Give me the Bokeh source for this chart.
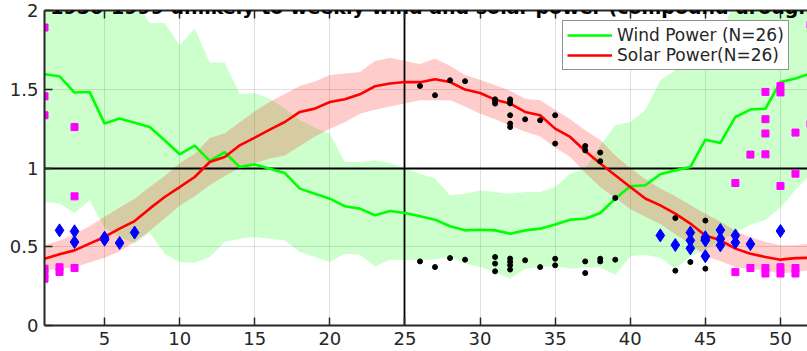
from bokeh.plotting import figure
from bokeh.models import FixedTicker, LinearAxis, Legend, LegendItem, Label
from bokeh.embed import file_html
from bokeh.resources import INLINE

# ---------------- data ----------------
weeks = list(range(1, 53))

wind_mean = [1.595, 1.582, 1.479, 1.483, 1.282, 1.314, 1.288, 1.260, 1.176, 1.087,
             1.142, 1.045, 1.100, 1.006, 1.023, 0.996, 0.968, 0.869, 0.837, 0.805,
             0.757, 0.742, 0.700, 0.727, 0.714, 0.693, 0.672, 0.630, 0.604, 0.608,
             0.604, 0.583, 0.604, 0.615, 0.642, 0.672, 0.678, 0.714, 0.805, 0.884,
             0.890, 0.960, 0.985, 1.006, 1.180, 1.159, 1.324, 1.371, 1.377, 1.546,
             1.568, 1.600]
wind_hi = [2.12, 2.15, 2.10, 2.14, 2.10, 2.08, 2.06, 1.92, 1.92, 1.78,
           1.885, 1.67, 1.67, 1.468, 1.476, 1.44, 1.377, 1.303, 1.256, 1.218,
           1.038, 1.038, 1.049, 1.032, 1.000, 0.964, 0.933, 0.827, 0.837, 0.858,
           0.848, 0.837, 0.848, 0.848, 0.879, 0.964, 0.996, 1.144, 1.271, 1.292,
           1.367, 1.557, 1.621, 1.663, 1.727, 1.832, 2.08, 2.12, 2.10, 2.15,
           2.12, 2.10]
wind_lo = [0.784, 0.774, 0.714, 0.795, 0.62, 0.56, 0.52, 0.59, 0.456, 0.403,
           0.397, 0.435, 0.53, 0.551, 0.562, 0.551, 0.54, 0.466, 0.435, 0.403,
           0.456, 0.45, 0.375, 0.417, 0.417, 0.414, 0.42, 0.435, 0.393, 0.371,
           0.339, 0.297, 0.361, 0.37, 0.38, 0.36, 0.37, 0.37, 0.32, 0.44,
           0.45, 0.43, 0.36, 0.44, 0.48, 0.54, 0.59, 0.64, 0.67, 0.75,
           0.86, 0.96]

solar_mean = [0.424, 0.452, 0.477, 0.520, 0.562, 0.615, 0.663, 0.742, 0.816, 0.879,
              0.943, 1.038, 1.070, 1.144, 1.193, 1.244, 1.292, 1.356, 1.377, 1.419,
              1.436, 1.468, 1.519, 1.536, 1.546, 1.545, 1.564, 1.546, 1.498, 1.476,
              1.434, 1.409, 1.356, 1.335, 1.250, 1.197, 1.108, 1.028, 0.954, 0.879,
              0.806, 0.763, 0.710, 0.647, 0.572, 0.541, 0.488, 0.456, 0.435, 0.418,
              0.428, 0.430]
solar_hi = [0.51, 0.54, 0.58, 0.63, 0.69, 0.75, 0.805, 0.88, 0.95, 1.03,
            1.09, 1.19, 1.22, 1.29, 1.36, 1.42, 1.47, 1.52, 1.55, 1.59,
            1.60, 1.61, 1.68, 1.70, 1.68, 1.66, 1.695, 1.65, 1.59, 1.56,
            1.525, 1.49, 1.44, 1.43, 1.37, 1.31, 1.24, 1.18, 1.08, 1.00,
            0.93, 0.87, 0.82, 0.765, 0.71, 0.66, 0.60, 0.56, 0.53, 0.51,
            0.51, 0.52]
solar_lo = [0.35, 0.36, 0.37, 0.40, 0.43, 0.47, 0.53, 0.60, 0.68, 0.76,
            0.82, 0.89, 0.95, 1.00, 1.03, 1.06, 1.08, 1.14, 1.20, 1.25,
            1.29, 1.345, 1.37, 1.39, 1.41, 1.43, 1.43, 1.43, 1.39, 1.345,
            1.31, 1.27, 1.23, 1.20, 1.13, 1.07, 0.97, 0.88, 0.81, 0.74,
            0.69, 0.645, 0.58, 0.52, 0.44, 0.41, 0.37, 0.36, 0.35, 0.33,
            0.34, 0.35]

# event markers
mag_week = [1, 1, 1, 1, 1, 1, 2, 2, 3, 3, 3,
            47, 47, 48, 48, 49, 49, 49, 49, 49, 49,
            50, 50, 50, 50, 50, 51, 51, 51, 51, 52, 52]
mag_val = [1.892, 1.455, 1.335, 0.361, 0.329, 0.297, 0.37, 0.34, 1.26, 0.82, 0.365,
           0.905, 0.339, 1.085, 0.365, 1.483, 1.31, 1.219, 1.087, 0.365, 0.33,
           1.52, 1.48, 0.886, 0.37, 0.33, 1.225, 0.964, 0.365, 0.33, 1.91, 1.28]

dia_week = [2, 3, 3, 5, 5, 6, 7,
            42, 43, 44, 44, 44, 45, 45, 45, 45, 46, 46, 46, 47, 47, 48, 50]
dia_val = [0.604, 0.598, 0.53, 0.558, 0.545, 0.524, 0.59,
           0.572, 0.511, 0.59, 0.54, 0.49, 0.56, 0.547, 0.54, 0.44,
           0.606, 0.55, 0.509, 0.572, 0.527, 0.517, 0.60]

dot_week = [26, 26, 27, 27, 28, 28, 29, 29,
            31, 31, 31, 31, 31, 31,
            32, 32, 32, 32, 32, 32, 32, 32, 32, 32,
            33, 33, 34, 34, 35, 35, 35, 35, 37, 37, 37, 37,
            38, 38, 38, 38, 39, 39, 43, 43, 44, 45, 45]
dot_val = [1.521, 0.407, 1.462, 0.371, 1.557, 0.428, 1.551, 0.418,
           1.436, 1.424, 1.409, 0.435, 0.393, 0.344,
           1.436, 1.42, 1.41, 1.335, 1.282, 1.26, 0.425, 0.404, 0.383, 0.355,
           1.309, 0.414, 1.303, 0.371, 1.335, 1.155, 0.424, 0.382, 1.14, 1.112, 0.407, 0.333,
           1.098, 1.043, 0.424, 0.407, 0.81, 0.418, 0.682, 0.348, 0.403, 0.666, 0.361]

x_ticks = [5, 10, 15, 20, 25, 30, 35, 40, 45, 50]
y_ticks = [0, 0.5, 1, 1.5, 2]
y_tick_labels = ["0", "0.5", "1", "1.5", "2"]
ref_week = [25]
ref_level = [1]

title_text = "GER 1950-1999 unlikely to weekly wind and solar power (compound drought events)"
wind_label = "Wind Power (N=26)"
solar_label = "Solar Power(N=26)"

# ---------------- figure ----------------
AX = "#262626"
FONT = "DejaVu Sans"

p = figure(frame_width=763, frame_height=315,
           min_border_left=44, min_border_right=0, min_border_top=26, min_border_bottom=25,
           x_range=(1, 51.8), y_range=(0, 2),
           output_backend="svg", toolbar_location=None,
           margin=(-16, 0, 0, 0))
p.background_fill_color = "white"
p.border_fill_color = "white"
p.outline_line_color = None

# bands
p.varea(x=weeks, y1=wind_lo, y2=wind_hi, fill_color="#00ff00", fill_alpha=0.2)
p.varea(x=weeks, y1=solar_lo, y2=solar_hi, fill_color="#ff0000", fill_alpha=0.2)

# reference lines
p.hspan(y=ref_level, line_color="black", line_width=2)
p.vspan(x=ref_week, line_color="black", line_width=1.8)

# mean lines
wind_line = p.line(weeks, wind_mean, line_color="#00ff00", line_width=2.6)
solar_line = p.line(weeks, solar_mean, line_color="#ff0000", line_width=2.6)

# markers
p.scatter(mag_week, mag_val, marker="square", size=7, fill_color="#ff00ff", line_color="#ff00ff")
p.scatter(dia_week, dia_val, marker="diamond", size=13, fill_color="#0000ff", line_color="#0000ff")
p.scatter(dot_week, dot_val, marker="circle", size=5, fill_color="black", line_color="black")

# axes
for ax in (p.xaxis[0], p.yaxis[0]):
    ax.axis_line_color = AX
    ax.axis_line_width = 2
    ax.major_tick_line_color = AX
    ax.major_tick_line_width = 1.5
    ax.major_tick_in = 8
    ax.major_tick_out = 0
    ax.minor_tick_line_color = None
    ax.major_label_text_font = FONT
    ax.major_label_text_font_size = "18px"
    ax.major_label_text_color = AX
    ax.major_label_standoff = 6

p.xaxis.ticker = FixedTicker(ticks=x_ticks)
p.yaxis.ticker = FixedTicker(ticks=y_ticks)
p.yaxis.major_label_overrides = dict(zip(y_ticks, y_tick_labels))

top_axis = LinearAxis(ticker=FixedTicker(ticks=x_ticks),
                      major_label_text_font_size="1px", major_label_text_color=None,
                      major_label_standoff=0,
                      major_tick_in=8, major_tick_out=0,
                      minor_tick_line_color=None,
                      axis_line_color=AX, axis_line_width=2,
                      major_tick_line_color=AX, major_tick_line_width=1.5)
p.add_layout(top_axis, "above")

p.xgrid.ticker = FixedTicker(ticks=x_ticks)
p.ygrid.ticker = FixedTicker(ticks=y_ticks)
for g in (p.xgrid[0], p.ygrid[0]):
    g.grid_line_color = AX
    g.grid_line_alpha = 0.15
    g.grid_line_width = 1

# title (cut off at the top like the reference)
title = Label(x=-44, y=318.5, x_units="screen", y_units="screen", text=title_text,
              text_font=FONT, text_font_style="bold", text_font_size="19px",
              text_color="black", text_baseline="alphabetic", text_align="left")
p.add_layout(title)

legend = Legend(items=[LegendItem(label=wind_label, renderers=[wind_line]),
                       LegendItem(label=solar_label, renderers=[solar_line])],
                location=(518, 255), orientation="vertical",
                border_line_color=AX, border_line_width=1.5,
                background_fill_color="white", background_fill_alpha=1,
                padding=4, spacing=0, margin=0,
                glyph_width=45, glyph_height=20, label_height=20, label_standoff=5,
                label_text_font=FONT, label_text_font_size="17px", label_text_color=AX)
p.add_layout(legend)

open("out.html", "w").write(file_html(p, INLINE))
